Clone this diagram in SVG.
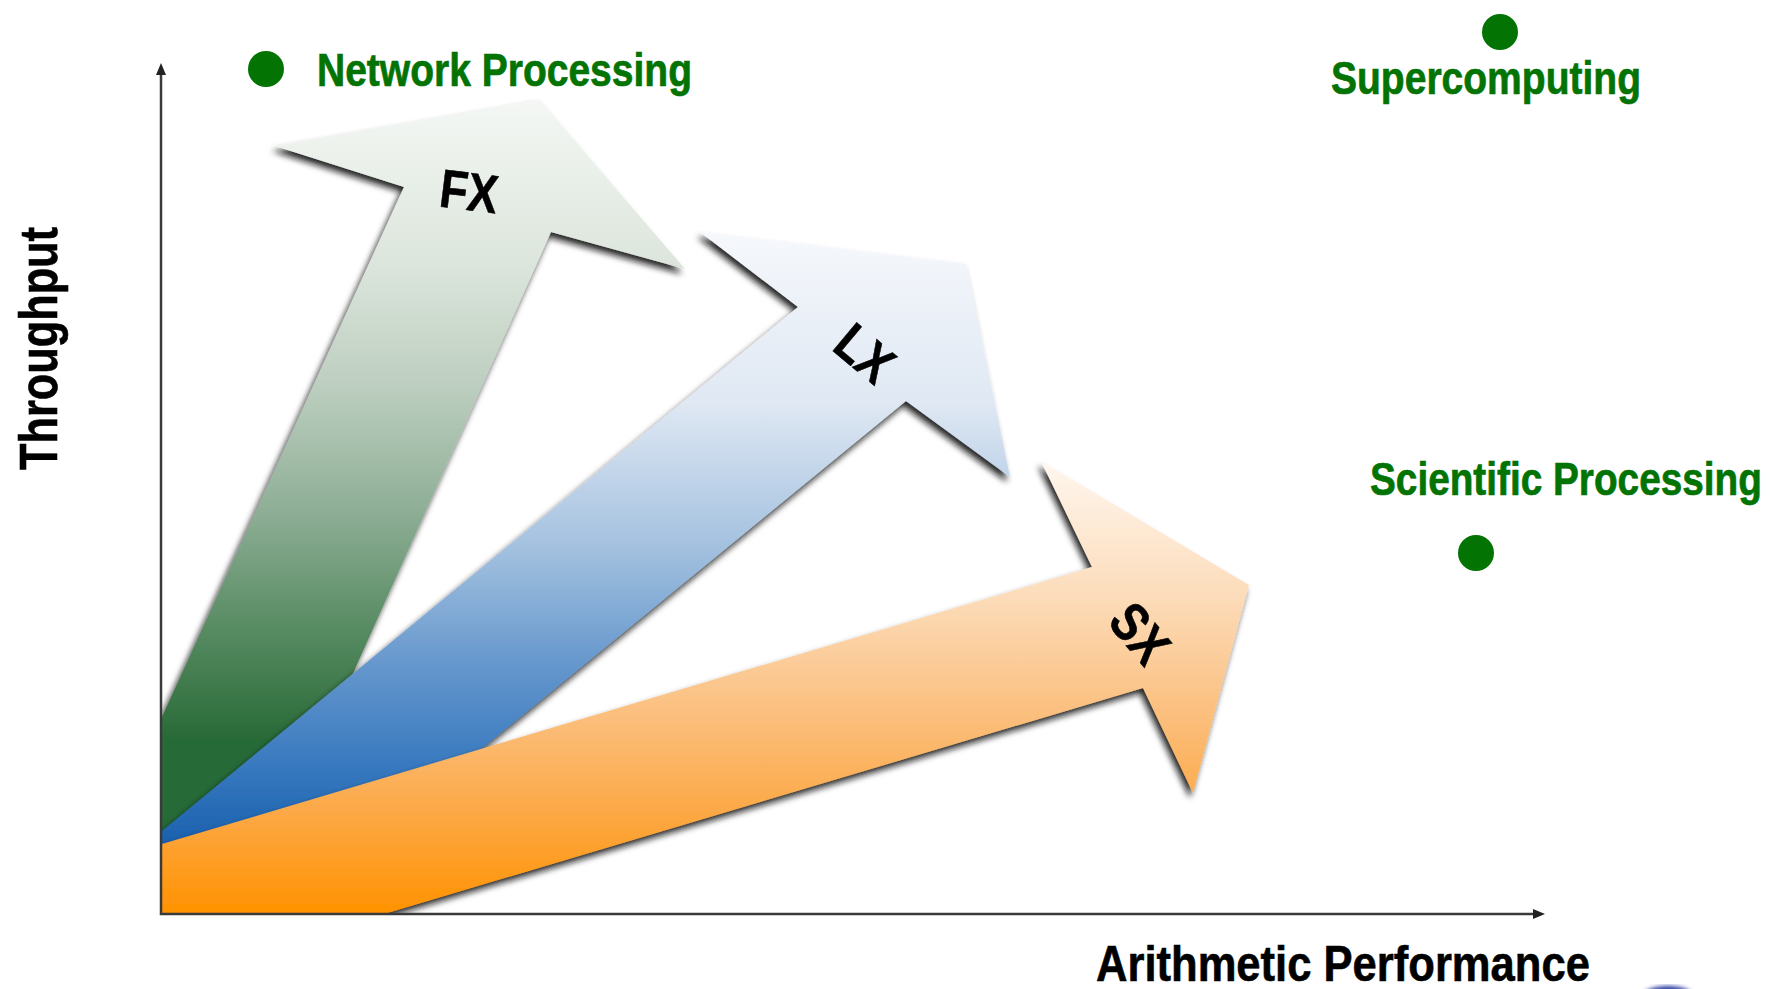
<svg xmlns="http://www.w3.org/2000/svg" width="1773" height="989" viewBox="0 0 1773 989">
  <style>
    .lbl { font-family: "Liberation Sans", Arial, sans-serif; font-weight: bold; fill: #037303; stroke: #037303; stroke-width: 0.7; font-size: 47px; }
    .axis-lbl { font-family: "Liberation Sans", Arial, sans-serif; font-weight: bold; fill: #000; stroke: #000; stroke-width: 0.6; }
    .tag { font-family: "Liberation Sans", Arial, sans-serif; font-weight: bold; fill: #000; stroke: #000; stroke-width: 0.6; font-size: 54px; text-anchor: middle; }
    .dot { fill: #037303; }
    .axis { stroke: #3a3a3a; stroke-width: 2.5; fill: none; }
  </style>
  <defs>
    <linearGradient id="gFX" gradientUnits="userSpaceOnUse" x1="0" y1="100" x2="0" y2="740">
      <stop offset="0" stop-color="#f4f7f4"/>
      <stop offset="0.25" stop-color="#dde6dd"/>
      <stop offset="0.45" stop-color="#bccebf"/>
      <stop offset="0.65" stop-color="#8cad94"/>
      <stop offset="0.8" stop-color="#5f9069"/>
      <stop offset="1" stop-color="#286a37"/>
    </linearGradient>
    <linearGradient id="gLX" gradientUnits="userSpaceOnUse" x1="0" y1="232" x2="0" y2="845">
      <stop offset="0" stop-color="#f6f8fc"/>
      <stop offset="0.28" stop-color="#dfe8f3"/>
      <stop offset="0.52" stop-color="#a2c0df"/>
      <stop offset="0.7" stop-color="#6798cd"/>
      <stop offset="0.87" stop-color="#3879bf"/>
      <stop offset="1" stop-color="#1a60ae"/>
    </linearGradient>
    <linearGradient id="gSX" gradientUnits="userSpaceOnUse" x1="0" y1="460" x2="0" y2="914">
      <stop offset="0" stop-color="#fff7ef"/>
      <stop offset="0.3" stop-color="#fcdcba"/>
      <stop offset="0.55" stop-color="#fbc080"/>
      <stop offset="0.78" stop-color="#fca845"/>
      <stop offset="1" stop-color="#ff9200"/>
    </linearGradient>
    <filter id="shadow" x="-10%" y="-10%" width="120%" height="120%">
      <feGaussianBlur in="SourceAlpha" stdDeviation="3.2"/>
      <feOffset dx="-3" dy="5" result="off"/>
      <feFlood flood-color="#111" flood-opacity="0.9"/>
      <feComposite in2="off" operator="in" result="sh"/>
      <feMerge>
        <feMergeNode in="sh"/>
        <feMergeNode in="SourceGraphic"/>
      </feMerge>
    </filter>
    <filter id="soft"><feGaussianBlur stdDeviation="2"/></filter>
    <clipPath id="plot">
      <rect x="162" y="0" width="1400" height="914"/>
    </clipPath>
  </defs>

  <!-- product family arrows, back to front -->
  <g id="arrows" clip-path="url(#plot)">
    <g id="fx">
      <polygon filter="url(#shadow)" fill="url(#gFX)" points="162,717 404,187 275,146 540,100 685,269 551,232 245,914 162,914"/>
      <text class="tag" transform="translate(469,191) rotate(7)" y="19" textLength="58" lengthAdjust="spacingAndGlyphs">FX</text>
    </g>
    <g id="lx">
      <polygon filter="url(#shadow)" fill="url(#gLX)" points="162,831 798,307 700,232 966,264 1010,477 906,401 280,914 162,914"/>
      <text class="tag" transform="translate(865,353) rotate(40)" y="19" textLength="58" lengthAdjust="spacingAndGlyphs">LX</text>
    </g>
    <g id="sx">
      <polygon filter="url(#shadow)" fill="url(#gSX)" points="162,844 1092,567 1041,461 1249,585 1193,793 1143,688 384,914 162,914"/>
      <text class="tag" transform="translate(1140,633) rotate(50)" y="19" textLength="60" lengthAdjust="spacingAndGlyphs">SX</text>
    </g>
  </g>

  <!-- axes -->
  <g id="axes">
    <path class="axis" d="M161,70 V914 H1536"/>
    <polygon fill="#222" points="161,63 156,75 166,75"/>
    <polygon fill="#222" points="1545,914 1533,909 1533,919"/>
    <text class="axis-lbl" font-size="54" transform="translate(57,470) rotate(-90)" textLength="243" lengthAdjust="spacingAndGlyphs">Throughput</text>
    <text class="axis-lbl" font-size="50" transform="translate(1096,981) scale(0.871,1)" textLength="567" lengthAdjust="spacingAndGlyphs">Arithmetic Performance</text>
  </g>

  <!-- application domains -->
  <g id="network">
    <circle class="dot" cx="266" cy="69" r="18"/>
    <text class="lbl" x="317" y="86" textLength="375" lengthAdjust="spacingAndGlyphs">Network Processing</text>
  </g>
  <g id="supercomputing">
    <circle class="dot" cx="1500" cy="32" r="18"/>
    <text class="lbl" x="1331" y="94" textLength="310" lengthAdjust="spacingAndGlyphs">Supercomputing</text>
  </g>
  <g id="scientific">
    <circle class="dot" cx="1476" cy="553" r="18"/>
    <text class="lbl" transform="translate(1370,495) scale(0.825,1)" textLength="475" lengthAdjust="spacingAndGlyphs">Scientific Processing</text>
  </g>

  <!-- edge of logo at the page corner -->
  <ellipse cx="1668" cy="995" rx="24" ry="9" fill="#2a3aa0" filter="url(#soft)"/>
</svg>
